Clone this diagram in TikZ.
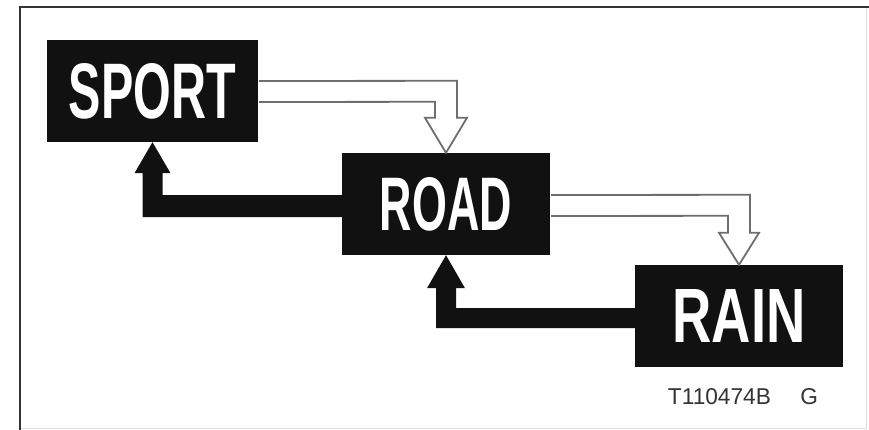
\documentclass[tikz,border=0pt]{standalone}
\usepackage{fontspec}
\setmainfont{Liberation Sans}
\usetikzlibrary{calc}
\definecolor{inkblack}{HTML}{111111}
\definecolor{outlinegray}{HTML}{6E6E6E}
\definecolor{framegray}{HTML}{333333}
\definecolor{faintgray}{HTML}{DDDDDD}
\tikzset{
  modebox/.style={fill=inkblack, draw=none, inner sep=0pt, text=white,
    minimum height=102pt},
  hollowarrow/.style={draw=outlinegray, fill=white, line width=1.8pt, line join=miter},
  solidarrow/.style={fill=inkblack, draw=none},
  codelabel/.style={text=framegray, inner sep=0pt},
}
\newcommand{\modetext}[3]{\resizebox{#1}{#2}{\bfseries #3}}
\begin{document}
\begin{tikzpicture}[x=1pt,y=-1pt]
\useasboundingbox (0,0) rectangle (869,430);
\fill[white] (0,0) rectangle (869,430);
% frame
\draw[faintgray, line width=1pt] (866,7) -- (866,428) -- (20,428);
\draw[framegray, line width=2pt] (20,430) -- (20,7) -- (869,7);
% boxes
\node[modebox, minimum width=211pt] (sport) at (152.5,91) {\modetext{167pt}{55pt}{SPORT}};
\node[modebox, minimum width=208pt] (road) at (446,204) {\modetext{132pt}{53pt}{ROAD}};
\node[modebox, minimum width=208pt] (rain) at (739,316) {\modetext{133pt}{53pt}{RAIN}};
% hollow arrows (shift up)
\draw[hollowarrow] ($(sport.east)+(1,-10)$) -- ($(road.north)+(11,-72)$) -- ($(road.north)+(11,-35)$)
  -- ($(road.north)+(21,-35)$) -- (road.north) -- ($(road.north)+(-21,-35)$)
  -- ($(road.north)+(-11,-35)$) -- ($(road.north)+(-11,-51)$) -- ($(sport.east)+(1,11)$);
\draw[hollowarrow] ($(road.east)+(1,-9)$) -- ($(rain.north)+(11,-70)$) -- ($(rain.north)+(11,-32)$)
  -- ($(rain.north)+(20,-32)$) -- (rain.north) -- ($(rain.north)+(-20,-32)$)
  -- ($(rain.north)+(-11,-32)$) -- ($(rain.north)+(-11,-49)$) -- ($(road.east)+(1,12)$);
% solid arrows (shift down)
\fill[solidarrow] ($(road.west)+(0,-9)$) -- ($(sport.south)+(10,53)$) -- ($(sport.south)+(10,31)$)
  -- ($(sport.south)+(18,31)$) -- (sport.south) -- ($(sport.south)+(-18,31)$)
  -- ($(sport.south)+(-10,31)$) -- ($(sport.south)+(-10,75)$) -- ($(road.west)+(0,13)$) -- cycle;
\fill[solidarrow] ($(rain.west)+(0,-8)$) -- ($(road.south)+(10,53)$) -- ($(road.south)+(10,33)$)
  -- ($(road.south)+(19,33)$) -- (road.south) -- ($(road.south)+(-19,33)$)
  -- ($(road.south)+(-10,33)$) -- ($(road.south)+(-10,73)$) -- ($(rain.west)+(0,12)$) -- cycle;
% code label
\node[codelabel] (code) at (743,397) {\resizebox{150pt}{16pt}{T110474B\hspace{1.3em}G}};
\end{tikzpicture}
\end{document}
